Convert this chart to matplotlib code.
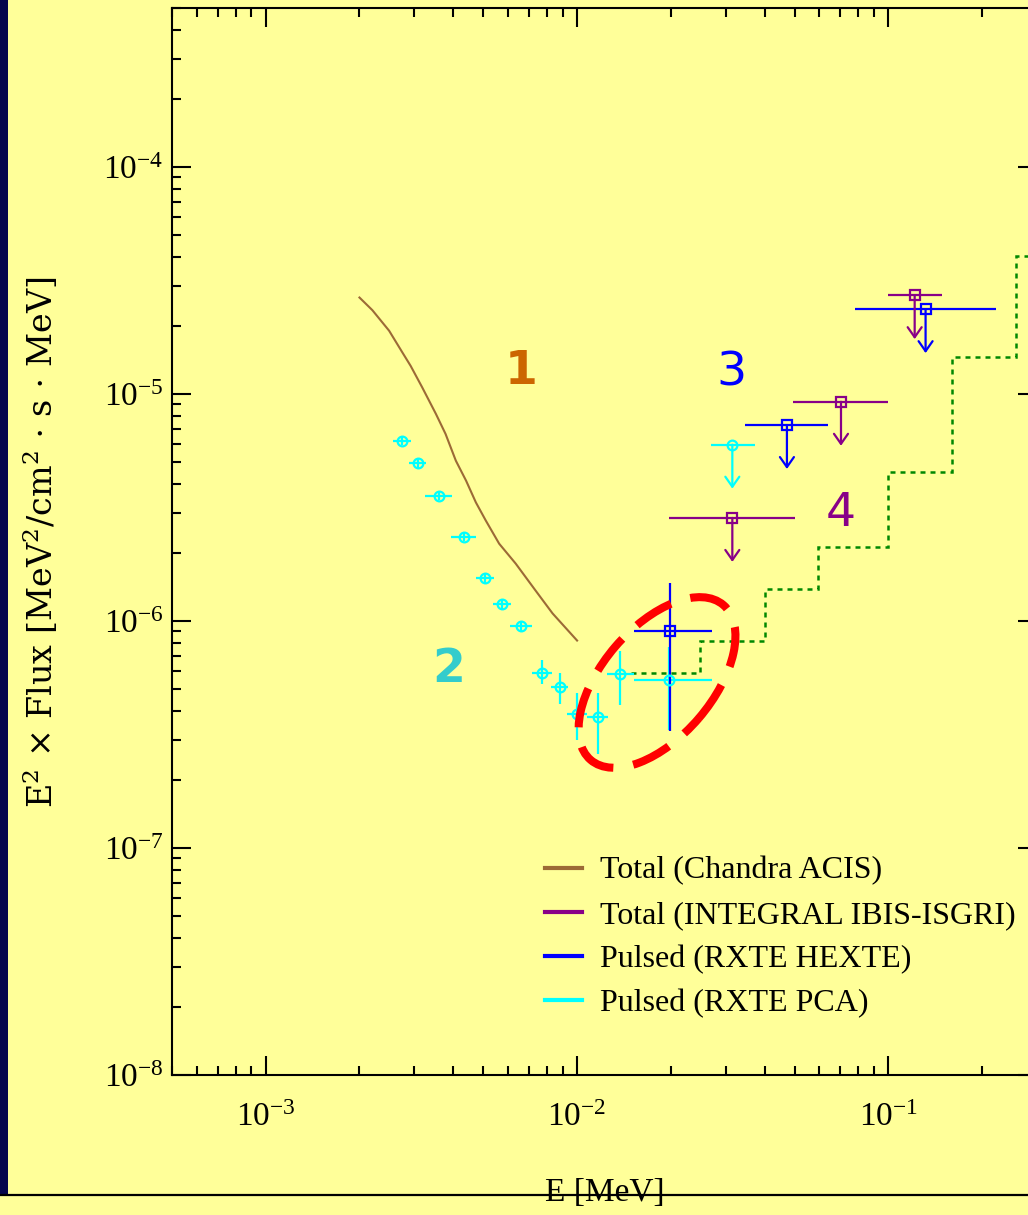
import numpy as np
import matplotlib
matplotlib.use('Agg')
import matplotlib.pyplot as plt
from matplotlib.patches import Ellipse, Rectangle
from matplotlib.lines import Line2D
from matplotlib.transforms import ScaledTranslation

plt.rcParams['font.family'] = ['Liberation Serif', 'DejaVu Serif']
plt.rcParams['mathtext.fontset'] = 'custom'
plt.rcParams['mathtext.rm'] = 'Liberation Serif'
plt.rcParams['mathtext.it'] = 'Liberation Serif:italic'
plt.rcParams['mathtext.bf'] = 'Liberation Serif:bold'

'''Spectro total Chandra ACIS (E en MeV, E^2 x flujo)'''
acis_e = [2.00e-3, 2.20e-3, 2.49e-3, 2.75e-3, 2.92e-3, 3.18e-3, 3.52e-3, 3.78e-3, 4.08e-3,
          4.40e-3, 4.73e-3, 5.09e-3, 5.62e-3, 6.35e-3, 7.36e-3, 8.34e-3, 1.00e-2]
acis_f = [2.66e-5, 2.34e-5, 1.90e-5, 1.52e-5, 1.33e-5, 1.07e-5, 8.17e-6, 6.67e-6, 5.08e-6,
          4.15e-6, 3.33e-6, 2.77e-6, 2.19e-6, 1.79e-6, 1.36e-6, 1.08e-6, 8.2e-7]

'''Puntos pulsados RXTE PCA'''
pca_e = [2.736e-3, 3.087e-3, 3.606e-3, 4.336e-3, 5.055e-3, 5.732e-3, 6.597e-3,
         7.70e-3, 8.80e-3, 1.002e-2, 1.165e-2, 1.374e-2, 1.973e-2]
pca_elo = [2.572e-3, 2.888e-3, 3.251e-3, 3.949e-3, 4.73e-3, 5.387e-3, 6.081e-3,
           7.155e-3, 8.27e-3, 9.31e-3, 1.079e-2, 1.252e-2, 1.524e-2]
pca_ehi = [2.924e-3, 3.282e-3, 3.978e-3, 4.75e-3, 5.414e-3, 6.126e-3, 7.185e-3,
           8.33e-3, 9.38e-3, 1.079e-2, 1.26e-2, 1.524e-2, 2.72e-2]
pca_f = [6.23e-6, 4.95e-6, 3.57e-6, 2.354e-6, 1.543e-6, 1.19e-6, 9.46e-7,
         5.89e-7, 5.11e-7, 3.90e-7, 3.77e-7, 5.82e-7, 5.47e-7]
pca_flo = [5.95e-6, 4.73e-6, 3.41e-6, 2.25e-6, 1.47e-6, 1.13e-6, 9.0e-7,
           5.29e-7, 4.32e-7, 3.00e-7, 2.60e-7, 4.25e-7, 3.30e-7]
pca_fhi = [6.52e-6, 5.18e-6, 3.73e-6, 2.46e-6, 1.61e-6, 1.25e-6, 9.9e-7,
           6.70e-7, 5.89e-7, 4.83e-7, 4.83e-7, 7.36e-7, 7.67e-7]

'''Punto pulsado RXTE HEXTE'''
hexte_e = [1.988e-2]
hexte_elo = [1.524e-2]
hexte_ehi = [2.72e-2]
hexte_f = [9.02e-7]
hexte_flo = [3.27e-7]
hexte_fhi = [1.467e-6]

'''Limites superiores'''
pca_ul_e = [3.152e-2]
pca_ul_elo = [2.698e-2]
pca_ul_ehi = [3.72e-2]
pca_ul_f = [5.98e-6]

hexte_ul_e = [4.72e-2, 0.1316]
hexte_ul_elo = [3.46e-2, 0.0781]
hexte_ul_ehi = [6.41e-2, 0.2219]
hexte_ul_f = [7.30e-6, 2.365e-5]

isgri_ul_e = [3.152e-2, 7.04e-2, 0.1214]
isgri_ul_elo = [1.973e-2, 4.94e-2, 0.1]
isgri_ul_ehi = [5.0e-2, 0.0999, 0.1489]
isgri_ul_f = [2.845e-6, 9.24e-6, 2.725e-5]

'''Curva de sensibilidad (escalones)'''
sens_edges = [0.0149, 0.0248, 0.0401, 0.0594, 0.0996, 0.1595, 0.256, 0.4]
sens_f = [5.89e-7, 8.15e-7, 1.386e-6, 2.113e-6, 4.55e-6, 1.448e-5, 4.06e-5]

'''Etiquetas numeradas'''
num_txt = ['1', '2', '3', '4']
num_e = [6.61e-3, 3.87e-3, 3.13e-2, 7.02e-2]
num_f = [1.25e-5, 6.1e-7, 1.24e-5, 2.98e-6]
num_col = ['#CC6600', '#33CCCC', '#0000FF', '#880088']
num_w = ['bold', 'bold', 'normal', 'normal']

amarillo = '#FFFF99'
c_acis = '#9C6A36'
c_isgri = '#880088'
c_hexte = '#0000FF'
c_pca = '#00FFFF'
c_sens = '#008800'

fig = plt.figure(figsize=(10.28, 12.15), dpi=100, facecolor=amarillo)
ax = fig.add_axes([0.16732, 0.11523, 0.84144, 0.87794])
ax.set_facecolor(amarillo)
ax.set_xscale('log')
ax.set_yscale('log')


def barras(e, elo, ehi, f, flo, fhi, col, mk, ms):
    e = np.array(e); f = np.array(f)
    xerr = [e - np.array(elo), np.array(ehi) - e]
    yerr = None
    if flo is not None:
        yerr = [f - np.array(flo), np.array(fhi) - f]
    ax.errorbar(e, f, xerr=xerr, yerr=yerr, fmt=mk, ms=ms, mfc='none', mec=col,
                mew=1.6, color=col, elinewidth=1.6, capsize=0, zorder=4)


def flechas(e, f, col):
    for xi, yi in zip(e, f):
        ax.annotate('', xy=(xi, yi * 0.64), xytext=(xi, yi),
                    arrowprops=dict(arrowstyle='->,head_length=0.4,head_width=0.28',
                                    color=col, lw=1.6, shrinkA=0, shrinkB=0,
                                    mutation_scale=18), zorder=4)


ax.stairs(sens_f, sens_edges, baseline=None, color=c_sens, lw=1.8,
          linestyle=(0, (2, 2)), zorder=2)
ax.plot(acis_e, acis_f, color=c_acis, lw=1.5, zorder=3)

barras(pca_e, pca_elo, pca_ehi, pca_f, pca_flo, pca_fhi, c_pca, 'o', 7)
barras(hexte_e, hexte_elo, hexte_ehi, hexte_f, hexte_flo, hexte_fhi, c_hexte, 's', 7)

barras(pca_ul_e, pca_ul_elo, pca_ul_ehi, pca_ul_f, None, None, c_pca, 'o', 7)
flechas(pca_ul_e, pca_ul_f, c_pca)
barras(hexte_ul_e, hexte_ul_elo, hexte_ul_ehi, hexte_ul_f, None, None, c_hexte, 's', 7)
flechas(hexte_ul_e, hexte_ul_f, c_hexte)
barras(isgri_ul_e, isgri_ul_elo, isgri_ul_ehi, isgri_ul_f, None, None, c_isgri, 's', 7)
flechas(isgri_ul_e, isgri_ul_f, c_isgri)

for t, xe, yf, c, w in zip(num_txt, num_e, num_f, num_col, num_w):
    ax.text(xe, yf, t, color=c, fontsize=34, fontweight=w, family='DejaVu Sans',
            ha='center', va='center', zorder=5)

# elipse roja resaltando la zona de solape
tr = fig.dpi_scale_trans + ScaledTranslation(0.01806, 5.36e-7, ax.transData)
ax.add_patch(Ellipse((0, 0), width=2.04, height=1.10, angle=49.4, transform=tr,
                     fill=False, edgecolor='#FF0000', lw=5.8,
                     linestyle=(0, (5, 2.5)), zorder=6))

ax.set_xlim(5e-4, 0.3)
ax.set_ylim(1e-8, 5e-4)

for s in ax.spines.values():
    s.set_linewidth(1.5)
ax.tick_params(which='both', direction='in', top=True, right=True, width=1.5,
               colors='black', labelsize=24)
ax.tick_params(which='major', length=13.5)
ax.tick_params(which='minor', length=6.5)
ax.tick_params(axis='x', which='major', pad=20)
ax.tick_params(axis='y', which='major', pad=6)

leyenda = [Line2D([], [], color=c_acis, lw=3),
           Line2D([], [], color=c_isgri, lw=3),
           Line2D([], [], color=c_hexte, lw=3),
           Line2D([], [], color=c_pca, lw=3)]
nombres = ['Total (Chandra ACIS)', 'Total (INTEGRAL IBIS-ISGRI)',
           'Pulsed (RXTE HEXTE)', 'Pulsed (RXTE PCA)']
ax.legend(leyenda, nombres, loc='upper left', bbox_to_anchor=(0.4312, 0.2050),
          frameon=False, fontsize=23, handlelength=1.16, handletextpad=0.56,
          labelspacing=0.46, borderpad=0, borderaxespad=0)

fig.text(0.039, 0.5535,
         r'E$^2$ $\times$ Flux [MeV$^2$/cm$^2$ $\cdot$ s $\cdot$ MeV]',
         rotation=90, ha='center', va='center', fontsize=24, family='DejaVu Serif',
         math_fontfamily='dejavuserif')
fig.text(0.588, 0.018, 'E [MeV]', ha='center', va='center', fontsize=24)

fig.add_artist(Rectangle((0, 0.0165), 0.0078, 1 - 0.0165, transform=fig.transFigure,
                         facecolor='#06064C', edgecolor='none'))
fig.add_artist(Line2D([0, 1], [0.0165, 0.0165], transform=fig.transFigure,
                      color='black', lw=1.6))

fig.savefig('out.png', dpi=100, facecolor=amarillo)
